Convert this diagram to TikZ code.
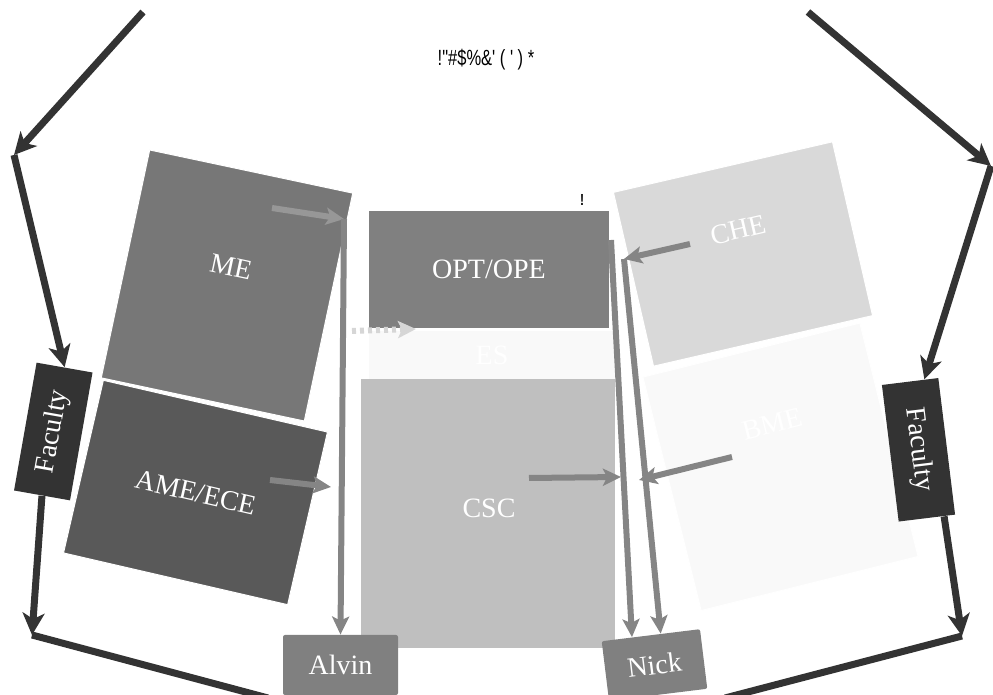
\documentclass[tikz,border=0pt]{standalone}
\usepackage{fontspec}
\setmainfont{Liberation Serif}
\newfontfamily\titlefont[FakeStretch=0.75]{Liberation Sans}
\usetikzlibrary{arrows.meta,calc}
\definecolor{meg}{HTML}{777777}
\definecolor{ameg}{HTML}{595959}
\definecolor{optg}{HTML}{808080}
\definecolor{esg}{HTML}{F9F9F9}
\definecolor{cscg}{HTML}{BFBFBF}
\definecolor{cheg}{HTML}{D9D9D9}
\definecolor{bmeg}{HTML}{F9F9F9}
\definecolor{facg}{HTML}{333333}
\definecolor{flowg}{HTML}{858585}
\definecolor{dotg}{HTML}{D6D6D6}
\tikzset{
	dept/.style={fill=#1, draw=white, line width=0.5pt, inner sep=0pt, text=white, font=\fontsize{14}{16}\selectfont},
	deptname/.style={text=white, inner sep=0pt, font=\fontsize{14}{16}\selectfont},
	faculty/.style={fill=facg, text=white, inner sep=0pt, minimum height=28.4pt, font=\fontsize{14}{16}\selectfont},
	person/.style={fill=optg, text=white, rounded corners=1pt, inner sep=0pt, minimum width=57.5pt, minimum height=30pt, font=\fontsize{14}{16}\selectfont},
	loopline/.style={draw=facg, line width=3.5pt, -{Stealth[length=11pt,width=11pt,inset=3pt]}},
	flow/.style={draw=flowg, line width=3pt, -{Stealth[length=9pt,width=8.5pt,inset=2pt]}},
}
\begin{document}
\begin{tikzpicture}[x=0.5pt,y=-0.5pt]
	\useasboundingbox (0,0) rectangle (993,695);
	% departments
	\node (me) [dept=meg, rotate=-12, minimum width=103.8pt, minimum height=116.5pt] at (227,285.5) {};
	\node (ame) [dept=ameg, rotate=-13, minimum width=115pt, minimum height=88.6pt] at (195.5,492.5) {AME/ECE};
	\node (che) [dept=cheg, rotate=13, minimum width=112.4pt, minimum height=89.2pt] at (743,254) {};
	\node (bme) [dept=bmeg, rotate=14, minimum width=111.8pt, minimum height=120.3pt] at (780.5,466.8) {};
	\node (opt) [dept=optg, draw=none, minimum width=120pt, minimum height=58.5pt] at (489,269.5) {OPT/OPE};
	\node (es) [dept=esg, draw=none, minimum width=123pt, minimum height=24pt] at (492,355) {ES};
	\node (csc) [dept=cscg, draw=none, minimum width=127pt, minimum height=134.5pt] at (488,513.5) {};
	\node (me-t) [deptname, rotate=-12] at (231,267) {ME};
	\node (che-t) [deptname, rotate=13] at (738,230) {CHE};
	\node (bme-t) [deptname, rotate=14] at (772,424) {BME};
	\node (csc-t) [deptname] at (489,508) {CSC};
	% faculty and people
	\node (facl) [faculty, rotate=80, minimum width=64.9pt] at (53.3,431.5) {Faculty};
	\node (facr) [faculty, rotate=-83, minimum width=68.8pt] at (918.5,449.8) {Faculty};
	\node (alvin) [person] at (340.5,665) {Alvin};
	\node (nick) [person, rotate=7, minimum width=49.5pt] at (654.5,665) {Nick};
	\node (title) [anchor=base, inner sep=0pt, font=\titlefont\fontsize{11}{13}\selectfont] at (486,66) {!"\#\$\%\&' ( ' ) *};
	\node (mark) [anchor=base, inner sep=0pt, font=\titlefont\bfseries\fontsize{8}{10}\selectfont] at (582,206) {!};
	% outer loop
	\coordinate (tl) at (143,12);
	\coordinate (cl) at (14,155);
	\coordinate (bl) at (32,635);
	\coordinate (bml) at (268,698);
	\coordinate (tr) at (808,12);
	\coordinate (cr) at (991,166);
	\coordinate (br) at (962,636);
	\coordinate (bmr) at (725,698);
	\draw[loopline] (tl) -- (cl);
	\draw[loopline] (cl) -- (facl.east);
	\draw[loopline] (facl.west) -- (bl);
	\draw[loopline, -] (bl) -- (bml);
	\draw[loopline] (tr) -- (cr);
	\draw[loopline] (cr) -- ($(facr.west)!0.5!(facr.north west)$);
	\draw[loopline] ($(facr.east)!0.6!(facr.north east)$) -- (br);
	\draw[loopline, -] (br) -- (bmr);
	% flows
	\coordinate (me-o) at (272,208);
	\coordinate (ja) at (344,219);
	\coordinate (ame-o) at (270,480);
	\coordinate (jb) at (331,487);
	\coordinate (che-o) at (690,244);
	\coordinate (jc) at (624,259);
	\coordinate (jd) at (611,240);
	\coordinate (csc-o) at (529,478);
	\coordinate (je) at (621,477);
	\coordinate (bme-o) at (732,457);
	\coordinate (jf) at (639,480);
	\coordinate (dot-o) at (352,331);
	\coordinate (dot-i) at (416,329);
	\draw[flow, draw=flowg!85!white] (me-o) -- (ja);
	\draw[flow] (ja) -- (alvin.north);
	\draw[flow] (ame-o) -- (jb);
	\draw[flow] (che-o) -- (jc);
	\draw[flow] (jc) -- ($(nick.north west)!0.6!(nick.north east)$);
	\draw[flow] (jd) -- ($(nick.north west)!0.31!(nick.north east)$);
	\draw[flow] (csc-o) -- (je);
	\draw[flow] (bme-o) -- (jf);
	\draw[flow, draw=dotg, dash pattern=on 2pt off 2pt] (dot-o) -- (dot-i);
\end{tikzpicture}
\end{document}
